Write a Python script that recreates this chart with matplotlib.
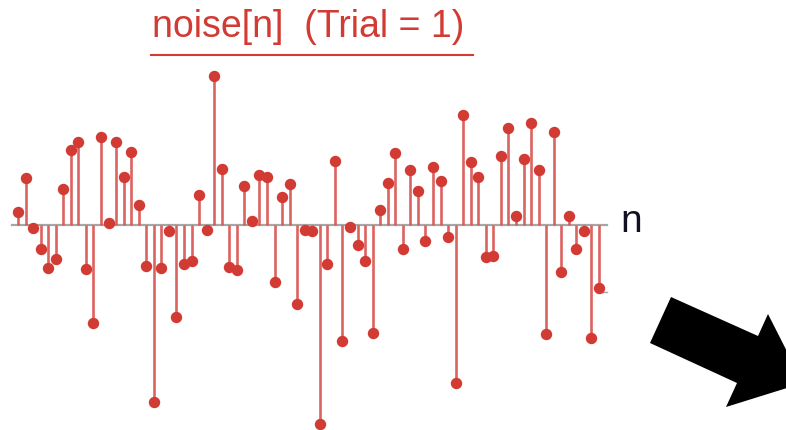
import numpy as np
import matplotlib
matplotlib.use("Agg")
import matplotlib.pyplot as plt
from matplotlib.lines import Line2D
from matplotlib.patches import Polygon

# noise samples (arbitrary units)
noise = [0.13, 0.47, -0.03, -0.24, -0.43, -0.34, 0.36, 0.75, 0.83, -0.44,
         -0.98, 0.88, 0.02, 0.83, 0.48, 0.73, 0.20, -0.41, -1.77, -0.43,
         -0.06, -0.92, -0.39, -0.36, 0.30, -0.05, 1.49, 0.56, -0.42, -0.45,
         0.39, 0.04, 0.50, 0.48, -0.57, 0.28, 0.41, -0.79, -0.05, -0.06,
         -1.99, -0.39, 0.64, -1.16, -0.02, -0.20, -0.36, -1.08, 0.15, 0.42,
         0.72, -0.24, 0.55, 0.34, -0.16, 0.58, 0.44, -0.12, -1.58, 1.10,
         0.63, 0.48, -0.32, -0.31, 0.69, 0.97, 0.09, 0.66, 1.02, 0.55,
         -1.09, 0.93, -0.47, 0.09, -0.24, -0.06, -1.13, -0.63]
n = np.arange(len(noise))
title = "noise[n]  (Trial = 1)"

red = "#d13b33"
W, H = 786, 430

fig = plt.figure(figsize=(W / 100, H / 100), dpi=100)
ax = fig.add_axes([0, 0, 1, 1])
ax.set_axis_off()

# axis line
ax.plot([-0.8, 78.1], [0, 0], color="#a6a6a6", lw=1.6, zorder=1)
ax.plot([77.5, 78.1], [-0.67, -0.67], color="#a6a6a6", lw=1.0, zorder=1)

markers, stems, base = ax.stem(n, noise, basefmt=" ")
plt.setp(stems, color="#d9534f", linewidth=1.9, alpha=0.9)
plt.setp(markers, color=red, markersize=7.2)
stems.set_zorder(2)
markers.set_zorder(3)

ax.set_xlim(-18 / 7.545, (W - 18) / 7.545)
ax.set_ylim(-2.05, 2.25)

ax.text(79.8, 0.03, "n", fontsize=28, color="#111122",
        family="Liberation Sans", ha="left", va="center")

# title with underline
fig.text(308 / W, 1 - 27 / H, title, fontsize=27, color=red,
         family="Liberation Sans", ha="center", va="center")
fig.add_artist(Line2D([151 / W, 473 / W], [1 - 55 / H, 1 - 55 / H],
                      color=red, lw=1.5, transform=fig.transFigure))

# big black arrow at the lower right
pts = [(671, 297), (758, 336), (768, 314), (803, 383), (726, 407),
       (737, 383), (650, 343)]
fig.add_artist(Polygon([(x / W, 1 - y / H) for x, y in pts], closed=True,
                       facecolor="black", edgecolor="none",
                       transform=fig.transFigure, clip_on=False))

fig.savefig("out.png", dpi=100)
